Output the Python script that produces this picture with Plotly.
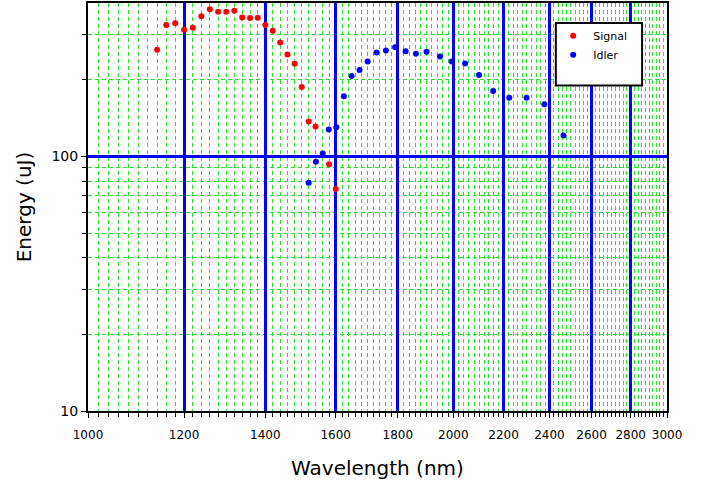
import plotly.graph_objects as go

# ---- data ----
signal_wl = [1140, 1160, 1180, 1200, 1220, 1240, 1260, 1280, 1300, 1320, 1340, 1360,
             1380, 1400, 1420, 1440, 1460, 1480, 1500, 1520, 1540, 1580, 1600]
signal_e = [262, 328, 333, 314, 320, 355, 378, 370, 370, 373, 351, 349,
            350, 328, 311, 280, 251, 231, 187, 137, 131, 93, 74.5]

idler_wl = [1520, 1541, 1561, 1579, 1602, 1625, 1649, 1674, 1700, 1729, 1760, 1791,
            1827, 1863, 1901, 1950, 1994, 2045, 2100, 2157, 2224, 2298, 2377, 2465]
idler_e = [78.7, 95.3, 102.7, 127.5, 130.2, 172.3, 206.7, 218.2, 235.6, 255.6, 260.2, 268.3,
           258.8, 252.6, 257.2, 246.5, 235.6, 231.4, 208.5, 180.6, 170, 170, 160.1, 120.8]

x_ticks = [1000, 1200, 1400, 1600, 1800, 2000, 2200, 2400, 2600, 2800, 3000]
x_minor = list(range(1020, 3000, 20))
y_ticks = [10, 100]
y_minor = [20, 30, 40, 50, 60, 70, 80, 90, 200, 300]

FONT = "DejaVu Sans"
GREEN = "rgb(40,225,40)"
BLUE = "rgb(0,0,255)"

fig = go.Figure()
fig.add_trace(go.Scatter(x=signal_wl, y=signal_e, mode="markers", name="Signal",
                         marker=dict(color="rgb(255,0,0)", size=6)))
fig.add_trace(go.Scatter(x=idler_wl, y=idler_e, mode="markers", name="Idler",
                         marker=dict(color="rgb(0,0,255)", size=6)))

fig.update_layout(
    width=720, height=494,
    margin=dict(l=88, r=53, t=1, b=83),
    paper_bgcolor="white", plot_bgcolor="white",
    font=dict(family=FONT, color="black"),
    xaxis=dict(
        type="log", range=[3, 3.4771],
        tickmode="array", tickvals=x_ticks, ticktext=[str(v) for v in x_ticks],
        tickfont=dict(size=12), ticks="outside", ticklen=5, tickcolor="black",
        ticklabelstandoff=7,
        showline=True, linecolor="black", linewidth=2, mirror=True,
        showgrid=True, gridcolor=BLUE, gridwidth=3,
        minor=dict(tickmode="array", tickvals=x_minor, ticks="outside", ticklen=4,
                   tickcolor="black", showgrid=True, gridcolor=GREEN,
                   griddash="4px,3px", gridwidth=1),
        title=dict(text="Wavelength (nm)", font=dict(size=20), standoff=20),
        zeroline=False,
    ),
    yaxis=dict(
        type="log", range=[1, 2.6021],
        tickmode="array", tickvals=y_ticks, ticktext=["10", "100"],
        tickfont=dict(size=14), ticks="outside", ticklen=5, tickcolor="black",
        showline=True, linecolor="black", linewidth=2, mirror=True,
        showgrid=True, gridcolor=BLUE, gridwidth=3,
        minor=dict(tickmode="array", tickvals=y_minor, ticks="outside", ticklen=4,
                   tickcolor="black", showgrid=True, gridcolor=GREEN,
                   griddash="4px,3px", gridwidth=1),
        title=dict(text="Energy (uJ)", font=dict(size=20), standoff=14),
        zeroline=False,
    ),
    xaxis2=dict(
        type="log", range=[3, 3.4771], overlaying="x", anchor="y", side="top",
        tickmode="array", tickvals=x_ticks, showticklabels=False,
        ticks="inside", ticklen=5, tickcolor="black", showgrid=False, zeroline=False,
        minor=dict(tickmode="array", tickvals=x_minor, ticks="inside", ticklen=4,
                   tickcolor="black", showgrid=False),
    ),
    yaxis2=dict(
        type="log", range=[1, 2.6021], overlaying="y", anchor="x", side="right",
        tickmode="array", tickvals=y_ticks, showticklabels=False,
        ticks="inside", ticklen=5, tickcolor="black", showgrid=False, zeroline=False,
        minor=dict(tickmode="array", tickvals=y_minor, ticks="inside", ticklen=4,
                   tickcolor="black", showgrid=False),
    ),
    showlegend=True,
    legend=dict(x=0.8034, y=0.955, xanchor="left", yanchor="top",
                bgcolor="rgba(0,0,0,0)", borderwidth=0, tracegroupgap=0,
                font=dict(family=FONT, size=11, color="black")),
    shapes=[dict(type="rect", xref="paper", yref="paper",
                 x0=0.808, x1=0.957, y0=0.7976, y1=0.951,
                 line=dict(color="black", width=2), fillcolor="white", layer="above")],
)

fig.write_html("out.html", config={"displayModeBar": False},
               post_script="document.body.style.margin='0';document.body.style.padding='0';")
